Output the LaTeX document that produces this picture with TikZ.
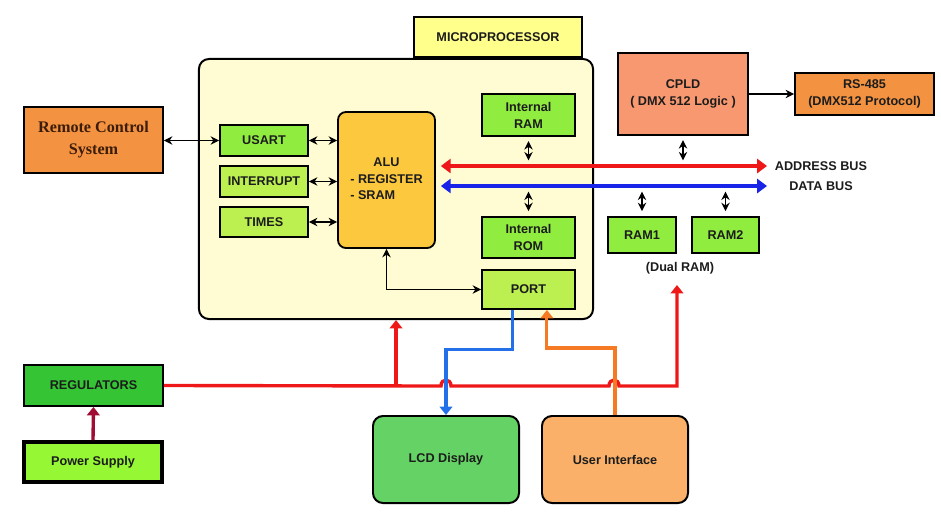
\documentclass[tikz,border=0pt]{standalone}
\usepackage{fontspec}
\setmainfont{Liberation Sans}
\newfontfamily\remotefont{Liberation Serif}
\usetikzlibrary{
  arrows.meta,
  positioning,
  calc
}
\definecolor{MicroTint}{RGB}{255,252,212}
\definecolor{TagYellow}{RGB}{255,255,140}
\definecolor{AluGold}{RGB}{252,200,62}
\definecolor{LimeGreen}{RGB}{145,236,64}
\definecolor{PaleLime}{RGB}{188,240,80}
\definecolor{PowerLime}{RGB}{150,248,52}
\definecolor{RegGreen}{RGB}{52,196,52}
\definecolor{LcdGreen}{RGB}{100,210,100}
\definecolor{RemoteOrange}{RGB}{243,146,64}
\definecolor{CpldSalmon}{RGB}{247,152,112}
\definecolor{UiOrange}{RGB}{250,176,104}
\definecolor{AddrRed}{RGB}{238,24,24}
\definecolor{DataBlue}{RGB}{24,36,232}
\definecolor{PortBlue}{RGB}{36,112,232}
\definecolor{InOrange}{RGB}{246,122,36}
\definecolor{SupplyRed}{RGB}{160,12,52}
\definecolor{TextDark}{RGB}{28,28,28}
\tikzset{
  blk/.style={
    draw=black,
    line width=1.3pt,
    inner sep=0pt,
    align=center,
    text=TextDark,
    font=\fontsize{9}{12}\selectfont\bfseries
  },
  limebox/.style={blk,fill=LimeGreen},
  palebox/.style={blk,fill=PaleLime},
  orangebox/.style={blk,fill=RemoteOrange},
  bigbox/.style={blk,rounded corners=2.5mm,line width=1.4pt},
  link/.style={{Stealth[length=6pt,width=6pt]}-{Stealth[length=6pt,width=6pt]},line width=1.3pt,draw=black},
  onelink/.style={-{Stealth[length=6pt,width=6pt]},line width=1.2pt,draw=black},
  busline/.style={{Triangle[length=7pt,width=10pt]}-{Triangle[length=7pt,width=10pt]},line width=3pt},
  feed/.style={-{Triangle[length=6pt,width=9pt]},line width=2.4pt},
  buslabel/.style={font=\fontsize{9}{11}\selectfont\bfseries,text=TextDark,inner sep=0pt}
}
\begin{document}
\begin{tikzpicture}[x=0.025cm,y=-0.025cm]
  \useasboundingbox (0,0) rectangle (941,515);

  % microprocessor block
  \node[bigbox, fill=MicroTint, minimum width=9.85cm, minimum height=6.5cm] (micro) at (396,189) {};
  \node[blk, fill=TagYellow, minimum width=4.2cm, minimum height=1cm] (tag) at (498,37) {MICROPROCESSOR};
  \node[limebox, minimum width=2.2cm, minimum height=0.775cm] (usart) at (264,140.5) {USART};
  \node[palebox, minimum width=2.2cm, minimum height=0.775cm] (intr) at (264,181.5) {INTERRUPT};
  \node[palebox, minimum width=2.2cm, minimum height=0.75cm] (times) at (264,222) {TIMES};
  \node[blk, fill=AluGold, rounded corners=2mm, minimum width=2.425cm, minimum height=3.4cm, font=\fontsize{9}{11.8}\selectfont\bfseries] (alu) at (386.5,180)
    {\begin{tabular}{@{}l@{}}\multicolumn{1}{@{}c@{}}{ALU}\\- REGISTER\\- SRAM\end{tabular}};
  \node[limebox, minimum width=2.325cm, minimum height=1.05cm] (iram) at (528.5,115) {Internal\\RAM};
  \node[limebox, minimum width=2.325cm, minimum height=1.025cm] (irom) at (528.5,237.5) {Internal\\ROM};
  \node[palebox, minimum width=2.325cm, minimum height=0.975cm] (port) at (528.5,289.5) {PORT};

  % outside the chip
  \node[orangebox, minimum width=3.475cm, minimum height=1.65cm, font=\fontsize{11.5}{15.5}\selectfont\remotefont\bfseries, text={rgb,255:red,60;green,28;blue,10}] (remote) at (93.5,140) {Remote Control\\System};
  \node[blk, fill=CpldSalmon, minimum width=3.25cm, minimum height=2.05cm] (cpld) at (683,94) {CPLD\\( DMX 512 Logic )};
  \node[orangebox, minimum width=3.475cm, minimum height=1.05cm] (rs) at (864.5,94) {RS-485\\(DMX512 Protocol)};
  \node[limebox, minimum width=1.7cm, minimum height=0.9cm] (ram1) at (642,235) {RAM1};
  \node[limebox, minimum width=1.675cm, minimum height=0.9cm] (ram2) at (725.5,235) {RAM2};
  \node[buslabel] (dual) at (680,268) {(Dual RAM)};
  \node[blk, fill=RegGreen, minimum width=3.475cm, minimum height=1.025cm] (reg) at (93.5,385.5) {REGULATORS};
  \node[blk, fill=PowerLime, line width=2.6pt, minimum width=3.45cm, minimum height=1cm] (power) at (93,462) {Power Supply};
  \node[bigbox, fill=LcdGreen, minimum width=3.65cm, minimum height=2.175cm] (lcd) at (446,459.5) {LCD Display};
  \node[bigbox, fill=UiOrange, minimum width=3.65cm, minimum height=2.175cm] (ui) at (615,459.5) {User Interface};

  % buses
  \coordinate (abusR) at (767,166);
  \coordinate (dbusR) at (767,186);
  \draw[busline, draw=AddrRed, shorten <=3.5pt] (alu.east |- abusR) -- (abusR);
  \draw[busline, draw=DataBlue, shorten <=3.5pt] (alu.east |- dbusR) -- (dbusR);
  \node[buslabel] (alabel) at (821,166) {ADDRESS BUS};
  \node[buslabel] (dlabel) at (821,186) {DATA BUS};

  \draw[link, shorten <=3pt, shorten >=4pt] (iram.south) -- (iram.south |- abusR);
  \draw[link, shorten <=3.5pt, shorten >=4pt] (irom.north) -- (irom.north |- dbusR);
  \draw[link, shorten <=3pt, shorten >=4pt] (cpld.south) -- (cpld.south |- abusR);
  \draw[link, shorten <=3.5pt, shorten >=4pt] (ram1.north) -- (ram1.north |- dbusR);
  \draw[link, shorten <=3.5pt, shorten >=4pt] (ram2.north) -- (ram2.north |- dbusR);

  \draw[link] (remote.east |- usart.west) -- (usart.west);
  \draw[link] (usart.east) -- (alu.west |- usart.east);
  \draw[link] (intr.east) -- (alu.west |- intr.east);
  \draw[link] (times.east) -- (alu.west |- times.east);
  \draw[link] (alu.south) |- (port.west);
  \draw[onelink] (cpld.east) -- (rs.west);

  % power
  \coordinate (dualtip) at (677,285);
  \draw[feed, draw=SupplyRed] (power.north) -- (reg.south);
  \draw[feed, draw=AddrRed] (reg.east) -- (441,386) .. controls (441,378) and (451,378) .. (451,386)
    -- (609,386) .. controls (609,378) and (619,378) .. (619,386) -| (dualtip);
  \draw[feed, draw=AddrRed] (micro.south |- reg.east) -- (micro.south);

  % port lines
  \draw[feed, draw=PortBlue, line width=2.2pt] ([xshift=-0.41cm]port.south) -- ++(0,40) -| (lcd.north);
  \draw[feed, draw=InOrange, line width=2.2pt] (ui.north) -- ++(0,-67) -| ([xshift=0.46cm]port.south);
\end{tikzpicture}
\end{document}
